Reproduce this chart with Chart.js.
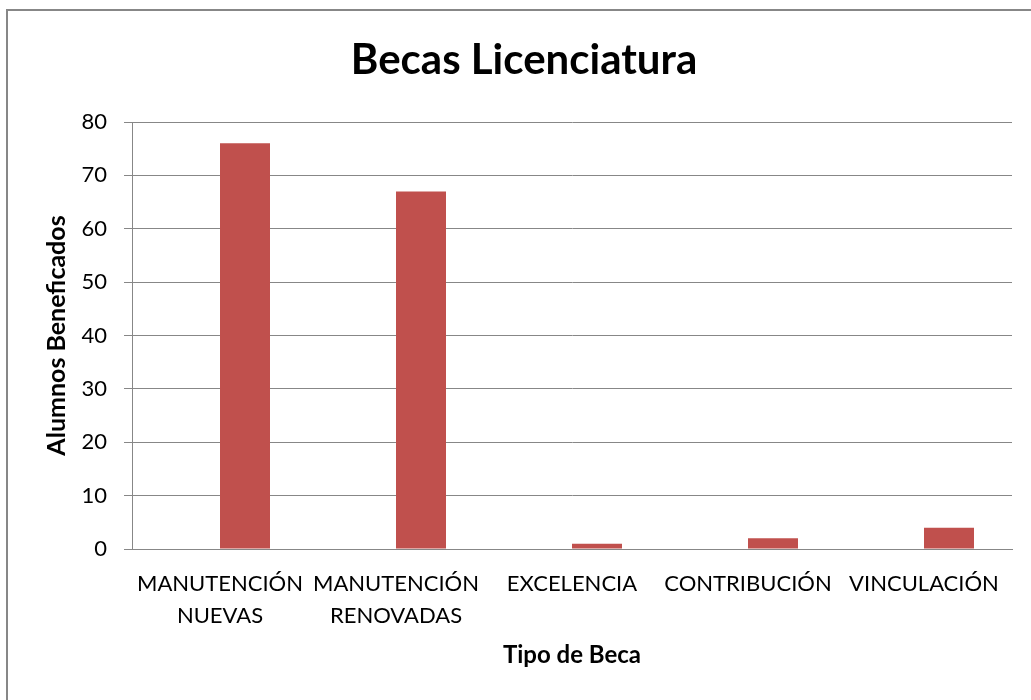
<!DOCTYPE html>
<html>
<head>
<meta charset="utf-8">
<script src="https://cdn.jsdelivr.net/npm/chart.js@4/dist/chart.umd.min.js"></script>
<style>
    html, body { margin: 0; padding: 0; background: #fff; overflow: hidden; }
    .marco { position: absolute; left: 6px; top: 9px; width: 1100px; height: 760px; border: 2px solid #878787; }
    .lienzo { position: absolute; left: 0; top: 0; width: 1031px; height: 700px; }
</style>
</head>
<body>
<div class="marco"></div>
<div class="lienzo"><canvas id="graficaBecas" width="1031" height="700"></canvas></div>
<script>
var categorias = [
    ['MANUTENCIÓN', 'NUEVAS'],
    ['MANUTENCIÓN', 'RENOVADAS'],
    'EXCELENCIA',
    'CONTRIBUCIÓN',
    'VINCULACIÓN'
];
// serie vacia: en el original las barras quedan a la derecha de cada categoria
var serieVacia = [null, null, null, null, null];
var alumnos = [76, 67, 1, 2, 4];
var ticksY = [0, 10, 20, 30, 40, 50, 60, 70, 80];

var gris = '#878787';
var fuente = 'Lato, "Open Sans", sans-serif';

var ctx = document.getElementById('graficaBecas').getContext('2d');
new Chart(ctx, {
    type: 'bar',
    data: {
        labels: categorias,
        datasets: [
            { label: '', data: serieVacia, backgroundColor: '#4F81BD' },
            {
                label: 'Alumnos Beneficados',
                data: alumnos,
                backgroundColor: '#C0504D',
                borderWidth: 0
            }
        ]
    },
    options: {
        responsive: false,
        animation: false,
        categoryPercentage: 100 / 176,
        barPercentage: 1,
        layout: { padding: { left: 36, right: 19, top: 0, bottom: 0 } },
        plugins: {
            legend: { display: false },
            tooltip: { enabled: false },
            title: {
                display: true,
                text: 'Becas Licenciatura',
                color: '#000',
                font: { family: fuente, size: 42, weight: 'bold', lineHeight: 1.2 },
                padding: { top: 35.5, bottom: 36.1 }
            }
        },
        scales: {
            x: {
                grid: { display: false, drawTicks: false },
                border: { display: true, color: gris, width: 1 },
                ticks: {
                    color: '#000',
                    font: { family: fuente, size: 22, lineHeight: 1.4545 },
                    padding: 18.5,
                    maxRotation: 0,
                    minRotation: 0,
                    autoSkip: false
                },
                title: {
                    display: true,
                    text: 'Tipo de Beca',
                    color: '#000',
                    font: { family: fuente, size: 24, weight: 'bold', lineHeight: 1.2 },
                    padding: { top: 0, bottom: 30 }
                },
                afterFit: function(scale) { scale.height = 151; }
            },
            y: {
                min: 0,
                max: 80,
                afterBuildTicks: function(scale) {
                    scale.ticks = ticksY.map(function(v) { return { value: v }; });
                },
                grid: { color: gris, lineWidth: 1, drawTicks: true, tickLength: 8, tickColor: gris },
                border: { display: true, color: gris, width: 1 },
                ticks: {
                    color: '#000',
                    font: { family: fuente, size: 22 },
                    padding: 17
                },
                title: {
                    display: true,
                    text: 'Alumnos Beneficados',
                    color: '#000',
                    font: { family: fuente, size: 25, weight: 'bold', lineHeight: 1.2 },
                    padding: { top: 6.3, bottom: 0 }
                },
                afterFit: function(scale) { scale.width = 96; }
            }
        }
    }
});
</script>
</body>
</html>
